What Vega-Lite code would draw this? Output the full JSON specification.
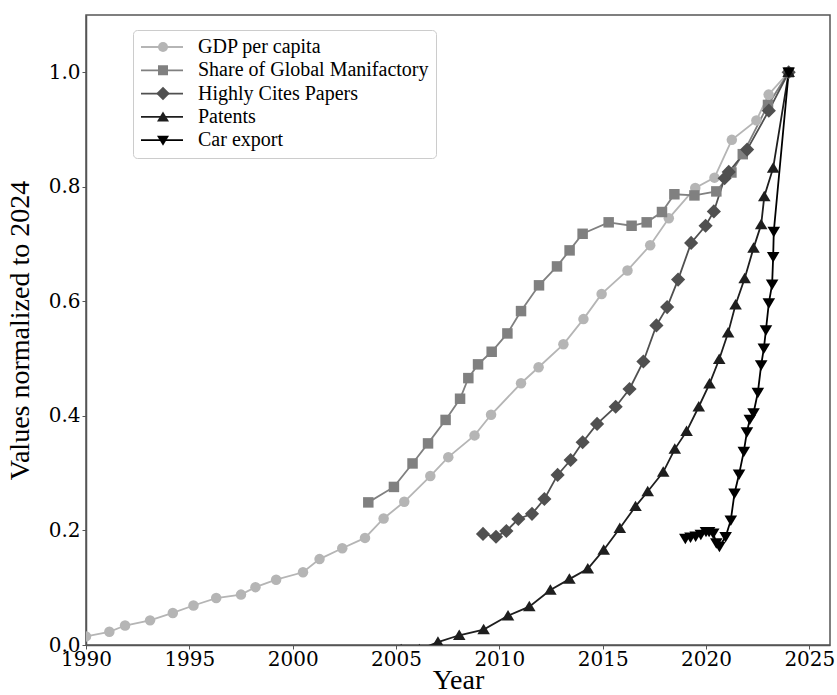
{
  "$schema": "https://vega.github.io/schema/vega-lite/v6.json",
  "width": 744,
  "height": 630,
  "autosize": "none",
  "padding": {"left": 86, "top": 15, "right": 7, "bottom": 50},
  "background": "white",
  "config": {
    "font": "DejaVu Serif",
    "view": {"stroke": "#555555", "strokeWidth": 1.5},
    "axis": {
      "grid": false,
      "labelFlush": false,
      "domainColor": "#555555",
      "domainWidth": 1.5,
      "tickColor": "#555555",
      "tickSize": 4,
      "labelFont": "DejaVu Serif",
      "labelFontSize": 20,
      "labelColor": "#000000",
      "titleFont": "Liberation Serif",
      "titleFontSize": 28,
      "titleFontWeight": "normal",
      "titleColor": "#000000"
    }
  },
  "data": {
    "values": [
      {"series": "GDP per capita", "year": 1990.0, "value": 0.015},
      {"series": "GDP per capita", "year": 1991.13, "value": 0.023},
      {"series": "GDP per capita", "year": 1991.89, "value": 0.034},
      {"series": "GDP per capita", "year": 1993.1, "value": 0.043},
      {"series": "GDP per capita", "year": 1994.2, "value": 0.056},
      {"series": "GDP per capita", "year": 1995.2, "value": 0.069},
      {"series": "GDP per capita", "year": 1996.3, "value": 0.082},
      {"series": "GDP per capita", "year": 1997.5, "value": 0.088},
      {"series": "GDP per capita", "year": 1998.2, "value": 0.101},
      {"series": "GDP per capita", "year": 1999.2, "value": 0.114},
      {"series": "GDP per capita", "year": 2000.5, "value": 0.127},
      {"series": "GDP per capita", "year": 2001.3, "value": 0.150},
      {"series": "GDP per capita", "year": 2002.4, "value": 0.169},
      {"series": "GDP per capita", "year": 2003.5, "value": 0.187},
      {"series": "GDP per capita", "year": 2004.4, "value": 0.221},
      {"series": "GDP per capita", "year": 2005.4, "value": 0.250},
      {"series": "GDP per capita", "year": 2006.66, "value": 0.295},
      {"series": "GDP per capita", "year": 2007.53, "value": 0.328},
      {"series": "GDP per capita", "year": 2008.8, "value": 0.366},
      {"series": "GDP per capita", "year": 2009.6, "value": 0.402},
      {"series": "GDP per capita", "year": 2011.05, "value": 0.457},
      {"series": "GDP per capita", "year": 2011.9, "value": 0.485},
      {"series": "GDP per capita", "year": 2013.1, "value": 0.525},
      {"series": "GDP per capita", "year": 2014.07, "value": 0.569},
      {"series": "GDP per capita", "year": 2014.95, "value": 0.613},
      {"series": "GDP per capita", "year": 2016.2, "value": 0.654},
      {"series": "GDP per capita", "year": 2017.3, "value": 0.698},
      {"series": "GDP per capita", "year": 2018.2, "value": 0.745},
      {"series": "GDP per capita", "year": 2019.48, "value": 0.798},
      {"series": "GDP per capita", "year": 2020.41, "value": 0.816},
      {"series": "GDP per capita", "year": 2021.25, "value": 0.882},
      {"series": "GDP per capita", "year": 2022.44, "value": 0.916},
      {"series": "GDP per capita", "year": 2023.03, "value": 0.961},
      {"series": "GDP per capita", "year": 2024.0, "value": 1.0},

      {"series": "Share of Global Manifactory", "year": 2003.66, "value": 0.249},
      {"series": "Share of Global Manifactory", "year": 2004.9, "value": 0.276},
      {"series": "Share of Global Manifactory", "year": 2005.8, "value": 0.317},
      {"series": "Share of Global Manifactory", "year": 2006.55, "value": 0.352},
      {"series": "Share of Global Manifactory", "year": 2007.4, "value": 0.393},
      {"series": "Share of Global Manifactory", "year": 2008.1, "value": 0.430},
      {"series": "Share of Global Manifactory", "year": 2008.5, "value": 0.466},
      {"series": "Share of Global Manifactory", "year": 2008.97, "value": 0.490},
      {"series": "Share of Global Manifactory", "year": 2009.63, "value": 0.512},
      {"series": "Share of Global Manifactory", "year": 2010.39, "value": 0.544},
      {"series": "Share of Global Manifactory", "year": 2011.05, "value": 0.583},
      {"series": "Share of Global Manifactory", "year": 2011.92, "value": 0.628},
      {"series": "Share of Global Manifactory", "year": 2012.79, "value": 0.661},
      {"series": "Share of Global Manifactory", "year": 2013.4, "value": 0.689},
      {"series": "Share of Global Manifactory", "year": 2014.03, "value": 0.718},
      {"series": "Share of Global Manifactory", "year": 2015.29, "value": 0.738},
      {"series": "Share of Global Manifactory", "year": 2016.4, "value": 0.732},
      {"series": "Share of Global Manifactory", "year": 2017.13, "value": 0.738},
      {"series": "Share of Global Manifactory", "year": 2017.87, "value": 0.756},
      {"series": "Share of Global Manifactory", "year": 2018.47, "value": 0.787},
      {"series": "Share of Global Manifactory", "year": 2019.44, "value": 0.785},
      {"series": "Share of Global Manifactory", "year": 2020.5, "value": 0.792},
      {"series": "Share of Global Manifactory", "year": 2021.23, "value": 0.825},
      {"series": "Share of Global Manifactory", "year": 2021.78, "value": 0.857},
      {"series": "Share of Global Manifactory", "year": 2023.0, "value": 0.943},
      {"series": "Share of Global Manifactory", "year": 2024.0, "value": 1.0},

      {"series": "Highly Cites Papers", "year": 2009.21, "value": 0.194},
      {"series": "Highly Cites Papers", "year": 2009.84, "value": 0.189},
      {"series": "Highly Cites Papers", "year": 2010.34, "value": 0.199},
      {"series": "Highly Cites Papers", "year": 2010.92, "value": 0.220},
      {"series": "Highly Cites Papers", "year": 2011.58, "value": 0.229},
      {"series": "Highly Cites Papers", "year": 2012.18, "value": 0.255},
      {"series": "Highly Cites Papers", "year": 2012.82, "value": 0.297},
      {"series": "Highly Cites Papers", "year": 2013.45, "value": 0.323},
      {"series": "Highly Cites Papers", "year": 2014.03, "value": 0.354},
      {"series": "Highly Cites Papers", "year": 2014.73, "value": 0.386},
      {"series": "Highly Cites Papers", "year": 2015.63, "value": 0.416},
      {"series": "Highly Cites Papers", "year": 2016.3, "value": 0.447},
      {"series": "Highly Cites Papers", "year": 2016.97, "value": 0.495},
      {"series": "Highly Cites Papers", "year": 2017.6, "value": 0.558},
      {"series": "Highly Cites Papers", "year": 2018.12, "value": 0.590},
      {"series": "Highly Cites Papers", "year": 2018.65, "value": 0.638},
      {"series": "Highly Cites Papers", "year": 2019.28, "value": 0.702},
      {"series": "Highly Cites Papers", "year": 2019.98, "value": 0.732},
      {"series": "Highly Cites Papers", "year": 2020.38, "value": 0.757},
      {"series": "Highly Cites Papers", "year": 2020.9, "value": 0.815},
      {"series": "Highly Cites Papers", "year": 2021.1, "value": 0.826},
      {"series": "Highly Cites Papers", "year": 2021.99, "value": 0.865},
      {"series": "Highly Cites Papers", "year": 2023.04, "value": 0.933},
      {"series": "Highly Cites Papers", "year": 2024.0, "value": 1.0},

      {"series": "Patents", "year": 2005.25, "value": -0.008},
      {"series": "Patents", "year": 2006.13, "value": -0.008},
      {"series": "Patents", "year": 2007.03, "value": 0.005},
      {"series": "Patents", "year": 2008.06, "value": 0.017},
      {"series": "Patents", "year": 2009.24, "value": 0.027},
      {"series": "Patents", "year": 2010.42, "value": 0.051},
      {"series": "Patents", "year": 2011.45, "value": 0.067},
      {"series": "Patents", "year": 2012.47, "value": 0.096},
      {"series": "Patents", "year": 2013.39, "value": 0.115},
      {"series": "Patents", "year": 2014.28, "value": 0.133},
      {"series": "Patents", "year": 2015.05, "value": 0.166},
      {"series": "Patents", "year": 2015.83, "value": 0.204},
      {"series": "Patents", "year": 2016.59, "value": 0.242},
      {"series": "Patents", "year": 2017.18, "value": 0.268},
      {"series": "Patents", "year": 2017.93, "value": 0.302},
      {"series": "Patents", "year": 2018.49, "value": 0.342},
      {"series": "Patents", "year": 2019.06, "value": 0.373},
      {"series": "Patents", "year": 2019.65, "value": 0.416},
      {"series": "Patents", "year": 2020.17, "value": 0.456},
      {"series": "Patents", "year": 2020.64, "value": 0.499},
      {"series": "Patents", "year": 2021.07, "value": 0.545},
      {"series": "Patents", "year": 2021.43, "value": 0.594},
      {"series": "Patents", "year": 2021.87, "value": 0.640},
      {"series": "Patents", "year": 2022.3, "value": 0.693},
      {"series": "Patents", "year": 2022.67, "value": 0.734},
      {"series": "Patents", "year": 2022.82, "value": 0.783},
      {"series": "Patents", "year": 2023.25, "value": 0.833},
      {"series": "Patents", "year": 2024.0, "value": 1.0},

      {"series": "Car export", "year": 2019.0, "value": 0.186},
      {"series": "Car export", "year": 2019.25, "value": 0.188},
      {"series": "Car export", "year": 2019.5, "value": 0.190},
      {"series": "Car export", "year": 2019.75, "value": 0.193},
      {"series": "Car export", "year": 2020.0, "value": 0.198},
      {"series": "Car export", "year": 2020.15, "value": 0.198},
      {"series": "Car export", "year": 2020.35, "value": 0.195},
      {"series": "Car export", "year": 2020.5, "value": 0.178},
      {"series": "Car export", "year": 2020.65, "value": 0.172},
      {"series": "Car export", "year": 2020.95, "value": 0.189},
      {"series": "Car export", "year": 2021.2, "value": 0.218},
      {"series": "Car export", "year": 2021.38, "value": 0.265},
      {"series": "Car export", "year": 2021.6, "value": 0.298},
      {"series": "Car export", "year": 2021.83, "value": 0.338},
      {"series": "Car export", "year": 2021.98, "value": 0.372},
      {"series": "Car export", "year": 2022.12, "value": 0.394},
      {"series": "Car export", "year": 2022.3, "value": 0.405},
      {"series": "Car export", "year": 2022.51, "value": 0.441},
      {"series": "Car export", "year": 2022.67, "value": 0.489},
      {"series": "Car export", "year": 2022.8, "value": 0.518},
      {"series": "Car export", "year": 2022.9, "value": 0.550},
      {"series": "Car export", "year": 2023.04, "value": 0.597},
      {"series": "Car export", "year": 2023.2, "value": 0.630},
      {"series": "Car export", "year": 2023.25, "value": 0.678},
      {"series": "Car export", "year": 2023.28, "value": 0.722},
      {"series": "Car export", "year": 2024.0, "value": 1.0}
    ]
  },
  "encoding": {
    "x": {
      "field": "year",
      "type": "quantitative",
      "scale": {"domain": [1990, 2026], "nice": false, "zero": false},
      "axis": {
        "title": "Year",
        "values": [1990, 1995, 2000, 2005, 2010, 2015, 2020, 2025],
        "format": "d",
        "labelPadding": 0,
        "titlePadding": -3
      }
    },
    "y": {
      "field": "value",
      "type": "quantitative",
      "scale": {"domain": [0, 1.1], "nice": false},
      "axis": {
        "title": "Values normalized to 2024",
        "values": [0, 0.2, 0.4, 0.6, 0.8, 1.0],
        "format": ".1f",
        "labelPadding": 2,
        "titlePadding": 14
      }
    }
  },
  "layer": [
    {
      "mark": {"type": "line", "strokeWidth": 1.8, "clip": true},
      "encoding": {
        "stroke": {
          "field": "series",
          "type": "nominal",
          "sort": null,
          "scale": {
            "domain": ["GDP per capita", "Share of Global Manifactory", "Highly Cites Papers", "Patents", "Car export"],
            "range": ["#b5b5b5", "#808080", "#505050", "#1e1e1e", "#000000"]
          },
          "legend": {
            "title": null,
            "orient": "none",
            "legendX": 47,
            "legendY": 15,
            "padding": 7,
            "strokeColor": "#cccccc",
            "fillColor": "transparent",
            "cornerRadius": 4,
            "labelFont": "Liberation Serif",
            "labelFontSize": 20,
            "labelColor": "#000000",
            "labelLimit": 400,
            "rowPadding": 3.3,
            "clipHeight": 20,
            "symbolType": "stroke",
            "symbolSize": 1764,
            "symbolStrokeWidth": 1.8,
            "symbolOffset": 0,
            "labelOffset": 14
          }
        }
      }
    },
    {
      "mark": {"type": "point", "filled": true, "opacity": 1, "size": 110, "clip": true},
      "encoding": {
        "fill": {
          "field": "series",
          "type": "nominal",
          "sort": null,
          "scale": {
            "range": ["#b5b5b5", "#808080", "#505050", "#1e1e1e", "#000000"]
          },
          "legend": {
            "title": null,
            "orient": "none",
            "legendX": 47,
            "legendY": 15,
            "padding": 7,
            "strokeColor": "transparent",
            "fillColor": "transparent",
            "labelFont": "Liberation Serif",
            "labelFontSize": 20,
            "labelOpacity": 0,
            "labelExpr": "' '",
            "rowPadding": 3.3,
            "clipHeight": 20,
            "symbolSize": 100,
            "symbolOffset": 13,
            "labelOffset": 14
          }
        },
        "shape": {
          "field": "series",
          "type": "nominal",
          "sort": null,
          "scale": {
            "range": ["circle", "square", "M0,-1.35L1.35,0L0,1.35L-1.35,0Z", "M0,-1.1L1.2,0.9L-1.2,0.9Z", "M0,1.1L1.2,-0.9L-1.2,-0.9Z"]
          },
          "legend": {
            "title": null,
            "orient": "none",
            "legendX": 47,
            "legendY": 15,
            "padding": 7,
            "strokeColor": "transparent",
            "fillColor": "transparent",
            "labelFont": "Liberation Serif",
            "labelFontSize": 20,
            "labelOpacity": 0,
            "labelExpr": "' '",
            "rowPadding": 3.3,
            "clipHeight": 20,
            "symbolSize": 100,
            "symbolOffset": 13,
            "labelOffset": 14
          }
        }
      }
    }
  ]
}
